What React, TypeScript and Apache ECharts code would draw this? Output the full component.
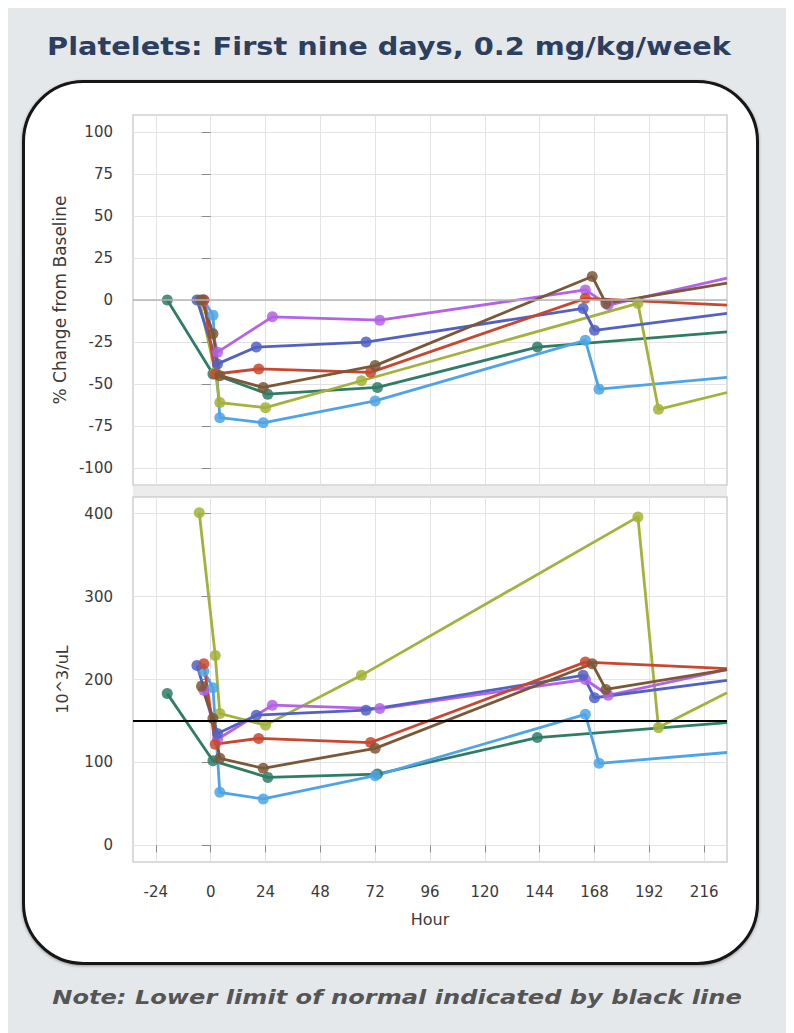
import React, { useEffect, useRef } from "react";
import * as echarts from "echarts";

// ---- tick labels ----
const hourTicks = [-24, 0, 24, 48, 72, 96, 120, 144, 168, 192, 216];
const pctTicks = [-100, -75, -50, -25, 0, 25, 50, 75, 100];
const countTicks = [0, 100, 200, 300, 400];
const lowerLimitNormal = 150;

// ---- series (hour, platelets 10^3/uL, % change from baseline) ----
const tealHours = [-19, 1, 25, 73, 143, 226];
const tealCount = [183, 102, 82, 86, 130, 148];
const tealPct = [0, -44, -56, -52, -28, -19];

const blueHours = [-3, 1, 4, 23, 72, 164, 170, 226];
const blueCount = [210, 190, 64, 56, 84, 158, 99, 112];
const bluePct = [0, -9, -70, -73, -60, -24, -53, -46];

const oliveHours = [-5, 2, 4, 24, 66, 187, 196, 226];
const oliveCount = [401, 229, 159, 145, 205, 396, 142, 184];
const olivePct = [0, -43, -61, -64, -48, -2, -65, -55];

const purpleHours = [-3, 3, 27, 74, 164, 174, 226];
const purpleCount = [187, 128, 169, 165, 200, 181, 212];
const purplePct = [0, -31, -10, -12, 6, -3, 13];

const indigoHours = [-6, 3, 20, 68, 163, 168, 226];
const indigoCount = [217, 135, 157, 163, 205, 178, 199];
const indigoPct = [0, -38, -28, -25, -5, -18, -8];

const redHours = [-3, 2, 21, 70, 164, 226];
const redCount = [219, 122, 129, 124, 221, 213];
const redPct = [0, -44, -41, -43, 1, -3];

const brownHours = [-4, 1, 4, 23, 72, 167, 173, 226];
const brownCount = [192, 153, 105, 93, 117, 219, 188, 212];
const brownPct = [0, -20, -45, -52, -39, 14, -2, 10];

const subjects = [
  { name: "Subject 1", color: "#2f7d66", hours: tealHours, count: tealCount, pct: tealPct },
  { name: "Subject 2", color: "#4ea4e6", hours: blueHours, count: blueCount, pct: bluePct },
  { name: "Subject 3", color: "#a3b23a", hours: oliveHours, count: oliveCount, pct: olivePct },
  { name: "Subject 4", color: "#b462e6", hours: purpleHours, count: purpleCount, pct: purplePct },
  { name: "Subject 5", color: "#5262c2", hours: indigoHours, count: indigoCount, pct: indigoPct },
  { name: "Subject 6", color: "#c9462f", hours: redHours, count: redCount, pct: redPct },
  { name: "Subject 7", color: "#7b5838", hours: brownHours, count: brownCount, pct: brownPct },
];

const TITLE = "Platelets: First nine days, 0.2 mg/kg/week";
const NOTE = "Note: Lower limit of normal indicated by black line";

const FONT = "DejaVu Sans";

function buildPoints(hours: number[], vals: number[]) {
  return hours.map((h, i) =>
    i === hours.length - 1 ? { value: [h, vals[i]], symbol: "none" } : { value: [h, vals[i]] }
  );
}

export default function App() {
  const ref = useRef<HTMLDivElement>(null);

  useEffect(() => {
    if (!ref.current) return;
    const chart = echarts.init(ref.current, undefined, { renderer: "svg" });

    const axisLabelStyle = { color: "#3a3a3a", fontSize: 15, fontFamily: FONT };
    const splitLine = { show: true, lineStyle: { color: "#e3e3e3", width: 1 } };

    const xCommon = {
      type: "value" as const,
      min: -34,
      max: 226,
      splitLine,
    };

    const series: any[] = [];
    subjects.forEach((s, idx) => {
      const common = {
        type: "line",
        name: s.name,
        symbol: "circle",
        symbolSize: 11,
        showAllSymbol: true,
        clip: true,
        lineStyle: { color: s.color, width: 2.8 },
        itemStyle: { color: s.color, opacity: 0.85 },
        emphasis: { disabled: true },
      };
      series.push({
        ...common,
        xAxisIndex: 0,
        yAxisIndex: 0,
        data: buildPoints(s.hours, s.pct),
        ...(idx === 0
          ? {
              markLine: {
                silent: true,
                symbol: "none",
                label: { show: false },
                lineStyle: { color: "#b4b4b4", width: 1.5, type: "solid" },
                data: [{ yAxis: 0 }],
              },
            }
          : {}),
      });
      series.push({
        ...common,
        xAxisIndex: 1,
        yAxisIndex: 1,
        data: buildPoints(s.hours, s.count),
        ...(idx === 0
          ? {
              markLine: {
                silent: true,
                symbol: "none",
                z: 10,
                label: { show: false },
                lineStyle: { color: "#000", width: 2, type: "solid" },
                data: [{ yAxis: lowerLimitNormal }],
              },
            }
          : {}),
      });
    });

    const option: any = {
      animation: false,
      backgroundColor: "#ffffff",
      graphic: [
        {
          type: "rect",
          z: -10,
          shape: { x: 8, y: 8, width: 778, height: 1025 },
          style: { fill: "#e4e8eb" },
          silent: true,
        },
        {
          type: "rect",
          z: -9,
          shape: { x: 23.5, y: 81.5, width: 734, height: 882, r: 60 },
          style: { fill: "#ffffff", stroke: "#151515", lineWidth: 3, shadowBlur: 3, shadowColor: "rgba(0,0,0,0.35)", shadowOffsetY: 1 },
          silent: true,
        },
        {
          type: "rect",
          z: -8,
          shape: { x: 133, y: 486, width: 594, height: 11 },
          style: { fill: "#ececec" },
          silent: true,
        },
        {
          type: "text",
          z: 10,
          x: 389,
          y: 46,
          scaleX: 1.2,
          style: {
            text: TITLE,
            x: 0,
            y: 0,
            align: "center",
            verticalAlign: "middle",
            fontFamily: FONT,
            fontWeight: "bold",
            fontSize: 24,
            fill: "#2c3f5e",
          },
        },
        {
          type: "text",
          z: 10,
          x: 397,
          y: 997,
          scaleX: 1.27,
          style: {
            text: NOTE,
            x: 0,
            y: 0,
            align: "center",
            verticalAlign: "middle",
            fontFamily: FONT,
            fontWeight: "bold",
            fontStyle: "italic",
            fontSize: 19,
            fill: "#555555",
          },
        },
      ],
      grid: [
        { left: 133, right: 67, top: 115, height: 370, show: true, borderColor: "#cfcfcf", borderWidth: 1.5, backgroundColor: "transparent" },
        { left: 133, right: 67, top: 497, height: 365, show: true, borderColor: "#cfcfcf", borderWidth: 1.5, backgroundColor: "transparent" },
      ],
      xAxis: [
        {
          ...xCommon,
          gridIndex: 0,
          axisLine: { show: false },
          axisTick: { show: false, customValues: hourTicks },
          axisLabel: { show: false, customValues: hourTicks },
        },
        {
          ...xCommon,
          gridIndex: 1,
          offset: 4,
          name: "Hour",
          nameLocation: "middle",
          nameGap: 45,
          nameTextStyle: { color: "#3a3a3a", fontSize: 16, fontFamily: FONT },
          axisLine: { show: false },
          axisTick: { show: true, length: 7, lineStyle: { color: "#8a8a8a" }, customValues: hourTicks },
          axisLabel: { ...axisLabelStyle, margin: 18, customValues: hourTicks },
        },
      ],
      yAxis: [
        {
          type: "value",
          gridIndex: 0,
          min: -110,
          max: 110,
          name: "% Change from Baseline",
          nameLocation: "middle",
          nameGap: 51,
          nameRotate: 90,
          nameTextStyle: { color: "#3a3a3a", fontSize: 17, fontFamily: FONT },
          axisLine: { show: false },
          axisTick: { show: true, length: 9, lineStyle: { color: "#8a8a8a" }, customValues: pctTicks },
          axisLabel: { ...axisLabelStyle, margin: 20, customValues: pctTicks },
          splitLine,
        },
        {
          type: "value",
          gridIndex: 1,
          min: -20,
          max: 420,
          name: "10^3/uL",
          nameLocation: "middle",
          nameGap: 63,
          nameRotate: 90,
          nameTextStyle: { color: "#3a3a3a", fontSize: 16, fontFamily: FONT },
          axisLine: { show: false },
          axisTick: { show: true, length: 9, lineStyle: { color: "#8a8a8a" }, customValues: countTicks },
          axisLabel: { ...axisLabelStyle, margin: 20, customValues: countTicks },
          splitLine,
        },
      ],
      series,
    };

    chart.setOption(option);
    return () => chart.dispose();
  }, []);

  return (
    <div
      ref={ref}
      style={{ position: "absolute", left: 0, top: 0, width: 794, height: 1033 }}
    />
  );
}
